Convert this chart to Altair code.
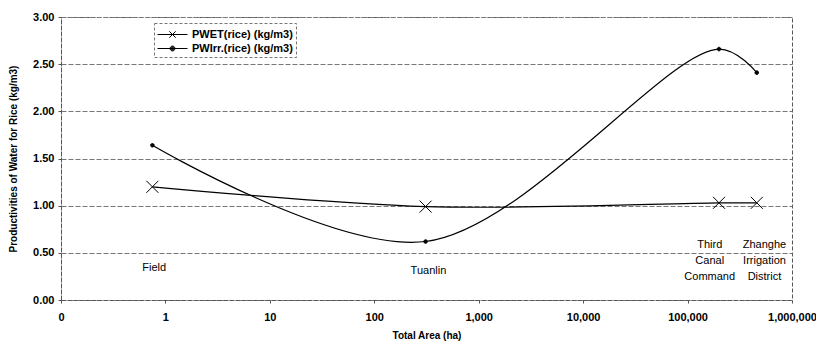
import altair as alt
import pandas as pd

# Data
sites = ["Field", "Tuanlin", "Third Canal Command", "Zhanghe Irrigation District"]
area_ha = [0.75, 310, 200000, 460000]
pwet = [1.20, 0.99, 1.03, 1.03]
pwirr = [1.64, 0.62, 2.66, 2.41]

series_names = ["PWET(rice) (kg/m3)", "PWIrr.(rice) (kg/m3)"]

label_text = [["Field"], ["Tuanlin"], ["Third", "Canal", "Command"], ["Zhanghe", "Irrigation", "District"]]
label_x = [0.78, 330, 163000, 545000]
label_y = [0.40, 0.37, 0.65, 0.65]

x_ticks = [0.1, 1, 10, 100, 1000, 10000, 100000, 1000000]
y_ticks = [0, 0.5, 1.0, 1.5, 2.0, 2.5, 3.0]

rows = []
for s, vals in zip(series_names, [pwet, pwirr]):
    for a, v, site in zip(area_ha, vals, sites):
        rows.append({"series": s, "area": a, "value": v, "site": site})
df = pd.DataFrame(rows)

labels_df = pd.DataFrame({"text": label_text, "x": label_x, "y": label_y})

FONT = "Liberation Sans"

x_enc = alt.X("area:Q", scale=alt.Scale(type="log", domain=[0.1, 1000000]),
              axis=alt.Axis(values=x_ticks, title="Total Area (ha)",
                            labelExpr="datum.value < 1 ? '0' : format(datum.value, ',')",
                            grid=False, tickSize=3, labelPadding=8, labelFlush=False,
                            titleY=35, titleBaseline="middle"))
y_enc = alt.Y("value:Q", scale=alt.Scale(domain=[0, 3]),
              axis=alt.Axis(values=y_ticks, format=".2f",
                            title="Productivities of Water for Rice (kg/m3)",
                            tickSize=3, labelPadding=4,
                            titleX=-48, titleY=141.5, titleAlign="center",
                            titleBaseline="middle"))

base = alt.Chart(df)

lines = base.mark_line(interpolate="catmull-rom", color="black", strokeWidth=1.2).encode(
    x=x_enc, y=y_enc, detail="series:N"
)

marker_paths = ["M-1,-1L1,1M-1,1L1,-1",
                "M-0.3,0A0.3,0.3 0 1,0 0.3,0A0.3,0.3 0 1,0 -0.3,0Z"]
points = base.mark_point(filled=True, fill="black", stroke="black", strokeWidth=1,
                         size=144, opacity=1).encode(
    x="area:Q", y="value:Q",
    shape=alt.Shape("series:N", scale=alt.Scale(domain=series_names, range=marker_paths),
                    legend=None)
)

# legend glyphs: line segment with the marker in the middle (drawn with strokes only)
dot = "".join(
    f"M-{r},0A{r},{r} 0 1,0 {r},0A{r},{r} 0 1,0 -{r},0"
    for r in (0.08, 0.16, 0.24, 0.3)
)
legend_paths = ["M-1.875,0H1.875M-0.4,-0.4L0.4,0.4M-0.4,0.4L0.4,-0.4",
                "M-1.875,0H1.875" + dot]
legend_layer = base.mark_point(filled=False, stroke="black", opacity=0).encode(
    x="area:Q", y="value:Q",
    shape=alt.Shape("series:N", scale=alt.Scale(domain=series_names, range=legend_paths),
                    legend=alt.Legend(title=None, orient="none", legendX=93, legendY=6,
                                      symbolSize=256, symbolStrokeWidth=1,
                                      symbolStrokeColor="black",
                                      symbolOpacity=1, symbolOffset=7,
                                      labelFont=FONT, labelFontSize=11, labelFontWeight="bold",
                                      labelColor="black", labelOffset=11,
                                      padding=3, strokeColor="#777"))
)

labels = alt.Chart(labels_df).mark_text(font=FONT, fontSize=11, color="black",
                                        align="center", baseline="top",
                                        lineHeight=16).encode(
    x="x:Q", y="y:Q", text="text"
)

chart = alt.layer(lines, points, legend_layer, labels).resolve_scale(
    shape="independent"
).properties(
    width=731, height=283,
    autosize=alt.AutoSizeParams(type="none"),
    padding={"left": 53, "top": 9, "right": 24, "bottom": 42},
    background="white",
).configure_view(
    stroke="#555", strokeDash=[4, 2], strokeWidth=1
).configure_legend(
    strokeDash=[3, 2], rowPadding=0
).configure_axis(
    labelFont=FONT, labelFontSize=11, labelFontWeight="bold", labelColor="black",
    titleFont=FONT, titleFontSize=10, titleFontWeight="bold", titleColor="black",
    domainColor="#555", domainDash=[4, 2], tickColor="#555",
    gridColor="#777", gridDash=[5, 2], gridWidth=1
)

chart.save("out.html", embed_options={"renderer": "svg", "actions": False})
